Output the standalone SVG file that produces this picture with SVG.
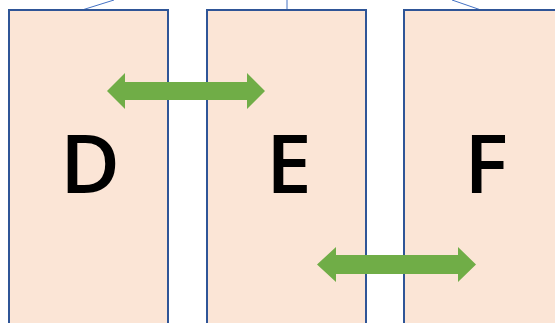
<svg xmlns="http://www.w3.org/2000/svg" width="555" height="323" viewBox="0 0 555 323">
  <style>
    .box { fill: #FBE5D6; stroke: #2F5597; stroke-width: 2; }
    .lbl { font-family: "Open Sans", "Noto Sans", sans-serif; font-weight: 600; font-size: 82px; fill: #000; text-anchor: middle; }
    .link { stroke: #4472C4; stroke-width: 1; fill: none; }
    .arrow { fill: #70AD47; }
  </style>
  <rect width="555" height="323" fill="#ffffff"/>
  <g id="connectors">
    <line class="link" x1="82" y1="10" x2="114" y2="0"/>
    <line class="link" x1="287" y1="10" x2="287" y2="0"/>
    <line class="link" x1="481" y1="10" x2="452" y2="0"/>
  </g>
  <g id="node-D">
    <rect class="box" x="9" y="10" width="159" height="330"/>
    <text class="lbl" x="90" y="193">D</text>
  </g>
  <g id="node-E">
    <rect class="box" x="207" y="10" width="159" height="330"/>
    <text class="lbl" x="289" y="193">E</text>
  </g>
  <g id="node-F">
    <rect class="box" x="404" y="10" width="170" height="330"/>
    <text class="lbl" x="486" y="193">F</text>
  </g>
  <g id="arrows">
    <polygon class="arrow" points="107,91 125,73 125,82 247,82 247,73 265,91 247,109 247,100 125,100 125,109"/>
    <polygon class="arrow" points="317,264.5 336,247 336,255 458,255 458,247 476,264.5 458,282 458,274 336,274 336,282"/>
  </g>
</svg>
